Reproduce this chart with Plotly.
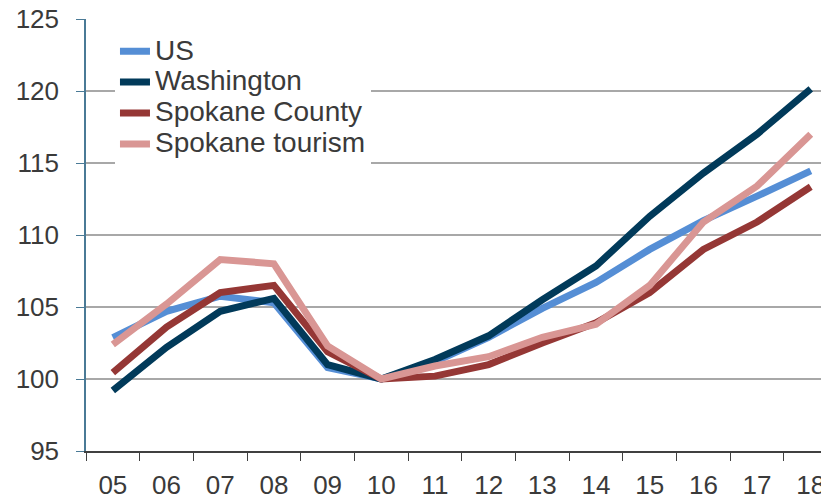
import plotly.graph_objects as go

years = ["05", "06", "07", "08", "09", "10", "11", "12", "13", "14", "15", "16", "17", "18"]
us = [102.87, 104.7, 105.75, 105.3, 100.8, 100.0, 101.2, 102.9, 104.9, 106.7, 109.0, 111.0, 112.7, 114.45]
washington = [99.2, 102.2, 104.7, 105.6, 101.0, 100.0, 101.35, 103.0, 105.5, 107.85, 111.3, 114.3, 117.0, 120.15]
spokane_county = [100.44, 103.6, 106.0, 106.5, 101.9, 100.0, 100.2, 101.0, 102.5, 103.9, 106.0, 109.0, 110.9, 113.35]
spokane_tourism = [102.4, 105.2, 108.3, 108.0, 102.3, 100.0, 100.9, 101.55, 102.9, 103.8, 106.5, 110.9, 113.4, 117.0]

series = [
    ("US", us, "#558ed5"),
    ("Washington", washington, "#013a5a"),
    ("Spokane County", spokane_county, "#953735"),
    ("Spokane tourism", spokane_tourism, "#d99694"),
]

fig = go.Figure()
for name, vals, color in series:
    fig.add_trace(go.Scatter(
        x=years, y=vals, mode="lines",
        name="<span style='font-size:28px'>" + name + "</span>",
        line=dict(color=color, width=7),
    ))

fig.update_layout(
    width=821, height=493,
    margin=dict(l=78, r=0, t=11, b=50, autoexpand=False),
    paper_bgcolor="white", plot_bgcolor="white",
    font=dict(family="Liberation Sans, Arial, sans-serif", color="#3a3a3a", size=25),
    showlegend=True,
    legend=dict(
        x=0.039, y=0.973, xanchor="left", yanchor="top",
        bgcolor="white", borderwidth=0,
        font=dict(size=21.5, color="#3a3a3a"),
        tracegroupgap=0,
    ),
)
fig.update_xaxes(
    type="category",
    range=[-0.5, 13.34],
    tickson="boundaries",
    ticks="outside", ticklen=8, tickcolor="#404040",
    showline=True, linecolor="#404040", linewidth=1.5,
    showgrid=False,
    tickfont=dict(size=26, color="#3a3a3a"),
    ticklabelstandoff=10,
    ticklabeloverflow="allow",
    automargin=False,
)
fig.update_yaxes(
    range=[95, 125],
    tickvals=[95, 100, 105, 110, 115, 120, 125],
    ticks="outside", ticklen=8, tickcolor="#4a7a96",
    showline=True, linecolor="#4a7a96", linewidth=1.5,
    showgrid=True, gridcolor="#a8a8a8", gridwidth=1.5,
    zeroline=False,
    tickfont=dict(size=26, color="#3a3a3a"),
    ticklabelstandoff=12,
    ticklabeloverflow="allow",
    automargin=False,
)

fig.write_html("out.html")
